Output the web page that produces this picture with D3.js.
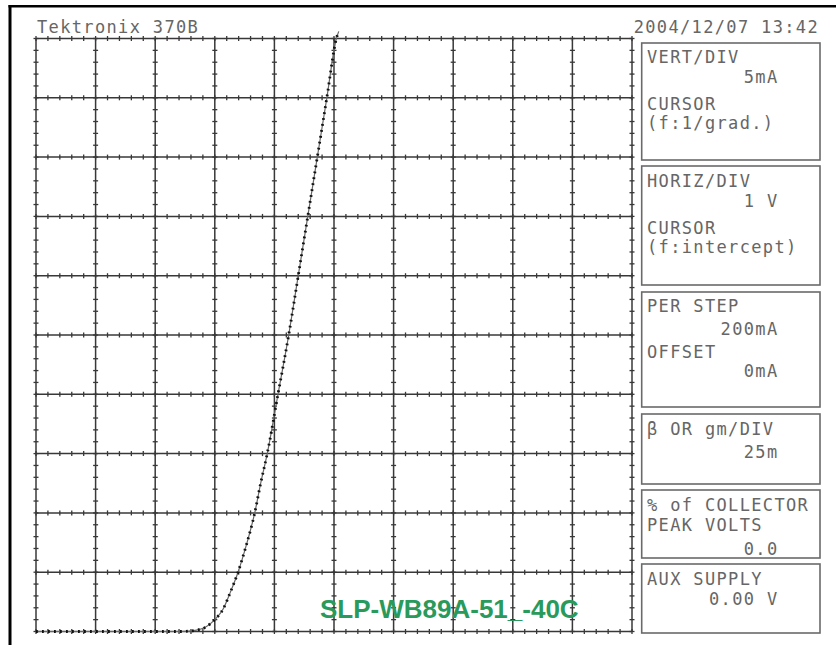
<!DOCTYPE html>
<html><head><meta charset="utf-8">
<script src="https://cdn.jsdelivr.net/npm/d3@7"></script>
<style>body{margin:0;background:#fff}svg{display:block}</style>
</head><body>
<svg id="c" width="836" height="645"></svg>
<script>
// ---- data ----
const voltage = [0, 0.5, 1, 1.5, 2, 2.42, 2.67, 2.84, 3.0, 3.14, 3.26, 3.39, 3.53, 3.67, 3.77, 3.88, 4.06, 4.24, 4.40, 4.56, 4.72, 4.88, 5.04, 5.08];
const current = [0, 0, 0, 0, 0, 0, 0.1, 0.35, 1.0, 1.9, 3.3, 5.0, 7.3, 10, 12.5, 15, 20, 25, 30, 35, 40, 45, 50, 50.6];
const xDivs = [0,1,2,3,4,5,6,7,8,9,10];          // volts (1 V/div)
const yDivs = [0,5,10,15,20,25,30,35,40,45,50];  // mA (5 mA/div)
const titleText = "Tektronix 370B";
const dateText = "2004/12/07 13:42";
const sampleLabel = "SLP-WB89A-51_-40C";
const panelTexts = [
  ["VERT/DIV","5mA","CURSOR","(f:1/grad.)"],
  ["HORIZ/DIV","1 V","CURSOR","(f:intercept)"],
  ["PER STEP","200mA","OFFSET","0mA"],
  ["β OR gm/DIV","25m"],
  ["% of COLLECTOR","PEAK VOLTS","0.0"],
  ["AUX SUPPLY","0.00 V"]
];
const panelAlign = [
  ["l","r","l","l"],
  ["l","r","l","l"],
  ["l","r","l","r"],
  ["l","r"],
  ["l","l","r"],
  ["l","r"]
];

// ---- layout ----
const panelBoxes = [[43,160],[166,285],[292,407],[414,484],[490,558],[564,633]];
const panelBase = [
  [63.3,83.3,110,128.5],
  [186.7,206.7,234,253],
  [311.7,335,358.3,377.3],
  [435,458.3],
  [511.3,530.5,555],
  [585,605]
];

const svg = d3.select("#c");
const x = d3.scaleLinear().domain([0,10]).range([36,632]);
const y = d3.scaleLinear().domain([0,50]).range([631.5,38.5]);

// outer frame
svg.append("line").attr("x1",8.5).attr("x2",836).attr("y1",6.3).attr("y2",6.3).attr("stroke","#000").attr("stroke-width",2.6);
svg.append("line").attr("x1",10).attr("x2",10).attr("y1",5).attr("y2",645).attr("stroke","#000").attr("stroke-width",3);

// grid
const grid = svg.append("g");
const gc = "#383838";
grid.selectAll("line.v").data(xDivs).join("line").attr("class","v")
  .attr("x1",d=>x(d)).attr("x2",d=>x(d)).attr("y1",y(0)).attr("y2",y(50))
  .attr("stroke",gc).attr("stroke-width",1.5);
grid.selectAll("line.h").data(yDivs).join("line").attr("class","h")
  .attr("y1",d=>y(d)).attr("y2",d=>y(d)).attr("x1",x(0)).attr("x2",x(10))
  .attr("stroke",gc).attr("stroke-width",1.5);
const minorX = d3.range(0,10.0001,0.2);
const minorY = d3.range(0,50.0001,1);
const tH = [];
yDivs.forEach(h=>minorX.forEach(m=>tH.push([m,h])));
grid.selectAll("line.th").data(tH).join("line").attr("class","th")
  .attr("x1",d=>x(d[0])).attr("x2",d=>x(d[0])).attr("y1",d=>y(d[1])-2.5).attr("y2",d=>y(d[1])+2.5)
  .attr("stroke",gc).attr("stroke-width",1.3);
const tV = [];
xDivs.forEach(v=>minorY.forEach(m=>tV.push([v,m])));
grid.selectAll("line.tv").data(tV).join("line").attr("class","tv")
  .attr("y1",d=>y(d[1])).attr("y2",d=>y(d[1])).attr("x1",d=>x(d[0])-2.5).attr("x2",d=>x(d[0])+2.5)
  .attr("stroke",gc).attr("stroke-width",1.3);

// trace
const pts = voltage.map((v,i)=>[v,current[i]]);
const line = d3.line().x(d=>x(d[0])).y(d=>y(d[1])).curve(d3.curveMonotoneX);
svg.append("path").attr("d",line(pts)).attr("fill","none").attr("stroke","#666").attr("stroke-width",1.2);
svg.append("path").attr("d",line(pts)).attr("fill","none").attr("stroke","#111").attr("stroke-width",2.8).attr("stroke-dasharray","1.8,4.2");

// texts
const tf = "'DejaVu Sans Mono', monospace";
const txtCol = "#666";
const fs = 17, ls = 1.35;
svg.append("text").attr("x",37).attr("y",33).text(titleText)
  .attr("font-family",tf).attr("font-size",fs).attr("letter-spacing",ls).attr("fill",txtCol);
svg.append("text").attr("x",819).attr("y",33).attr("text-anchor","end").text(dateText)
  .attr("font-family",tf).attr("font-size",fs).attr("letter-spacing",ls).attr("fill",txtCol);

// panels
panelBoxes.forEach((b,i)=>{
  svg.append("rect").attr("x",641.7).attr("y",b[0]).attr("width",178.3).attr("height",b[1]-b[0])
    .attr("fill","none").attr("stroke","#6a6a6a").attr("stroke-width",1.6);
  panelTexts[i].forEach((t,j)=>{
    const r = panelAlign[i][j]==="r";
    svg.append("text").attr("x",r?778.5:647).attr("y",panelBase[i][j])
      .attr("text-anchor",r?"end":"start").text(t)
      .attr("font-family",tf).attr("font-size",fs).attr("letter-spacing",ls).attr("fill",txtCol);
  });
});

// sample label
svg.append("text").attr("x",320).attr("y",618).text(sampleLabel)
  .attr("font-family","'Liberation Sans', Arial, sans-serif").attr("font-weight","bold")
  .attr("font-size",26).attr("fill","#2a9a5c");
</script>
</body></html>
